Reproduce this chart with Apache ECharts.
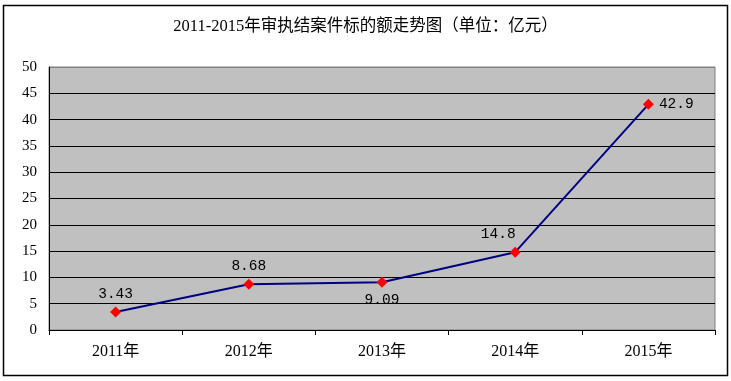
<!DOCTYPE html>
<html><head><meta charset="utf-8">
<script src="https://cdn.jsdelivr.net/npm/echarts@6/dist/echarts.min.js"></script>
<style>html,body{margin:0;padding:0;background:#fff}#c{width:731px;height:381px}</style>
</head><body><div id="c"></div>
<script>
const titleText = '2011-2015年审执结案件标的额走势图（单位：亿元）';
const categories = ['2011年','2012年','2013年','2014年','2015年'];
const values = [3.43, 8.68, 9.09, 14.8, 42.9];
const labelPositions = ['top','top','bottom','top','right'];
const serif = '"Liberation Serif","Noto Sans CJK SC",serif';
const mono = '"Liberation Mono","Noto Sans CJK SC",monospace';
const chart = echarts.init(document.getElementById('c'));
const splitColors = ['#000','#000','#000','#000','#000','#000','#000','#000','#000','#000','#808080'];
chart.setOption({
  animation:false,
  title:{text:titleText,left:'center',top:13,textStyle:{fontFamily:serif,fontSize:16.5,fontWeight:'normal',color:'#000'}},
  graphic:[{type:'rect',shape:{x:3.5,y:5.5,width:724,height:370},style:{fill:'none',stroke:'#000',lineWidth:1.5},silent:true,z:-1}],
  grid:{left:49,right:16,top:67,bottom:51,show:true,backgroundColor:'#C0C0C0',borderColor:'#808080',borderWidth:1},
  xAxis:{type:'category',data:categories,boundaryGap:true,
    axisLine:{lineStyle:{color:'#000',width:1}},
    axisTick:{show:true,length:5,lineStyle:{color:'#000'}},
    axisLabel:{fontFamily:serif,fontSize:16,color:'#000',margin:14}},
  yAxis:{type:'value',min:0,max:50,interval:5,
    axisLine:{show:true,lineStyle:{color:'#000'}},
    axisTick:{show:false},
    axisLabel:{fontFamily:serif,fontSize:15,color:'#000',margin:12},
    splitLine:{lineStyle:{color:splitColors,width:1}}},
  series:[{type:'line',data:values.map((v,i)=>({value:v,label:{position:labelPositions[i],offset:i===3?[-17,0]:[0,0]}})),
    symbol:'diamond',symbolSize:11,
    itemStyle:{color:'#FF0000'},
    lineStyle:{color:'#000080',width:2},
    label:{show:true,fontFamily:mono,fontSize:14.5,color:'#000',distance:5,formatter:p=>String(p.value)}}]
});
</script></body></html>
